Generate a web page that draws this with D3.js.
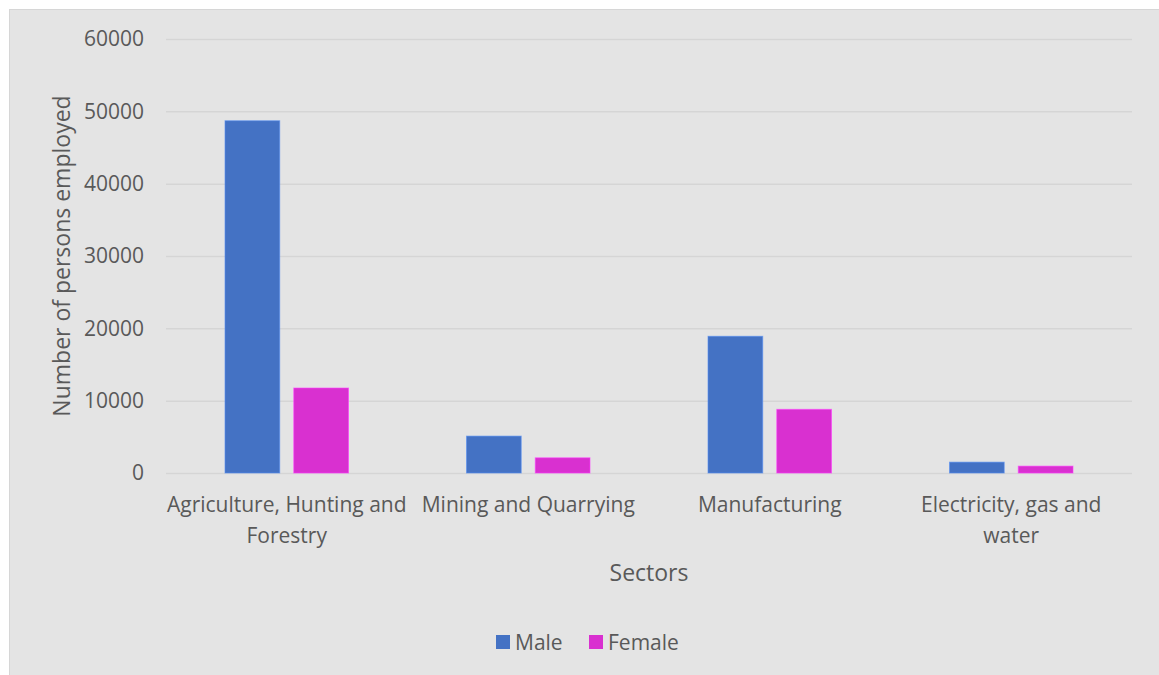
<!DOCTYPE html>
<html><head><meta charset="utf-8">
<script src="https://cdn.jsdelivr.net/npm/d3@7"></script>
<style>body{margin:0;background:#fff;}svg{display:block;font-family:"Open Sans",sans-serif;}</style>
</head><body>
<svg id="c" width="1159" height="675"></svg>
<script>
const categories = ["Agriculture, Hunting and Forestry","Mining and Quarrying","Manufacturing","Electricity, gas and water"];
const categoryLines = [["Agriculture, Hunting and","Forestry"],["Mining and Quarrying"],["Manufacturing"],["Electricity, gas and","water"]];
const seriesNames = ["Male","Female"];
const maleValues = [48700, 5100, 18900, 1500];
const femaleValues = [11750, 2100, 8800, 950];
const yTicks = [0,10000,20000,30000,40000,50000,60000];
const colors = ["#4472c4","#d930d0"];

const svg = d3.select("#c");
svg.append("rect").attr("x",9.5).attr("y",9.5).attr("width",1160).attr("height",680)
  .attr("fill","#e4e4e4").attr("stroke","#d6d6d6").attr("stroke-width",1);

const L=166,R=1132,T=39,B=473;
const x = d3.scaleBand().domain(categories).range([L,R]).paddingInner(0).paddingOuter(0);
const outer = 59;
const x1 = d3.scaleBand().domain(seriesNames).range([outer,x.bandwidth()-outer]).paddingInner(0.2044).paddingOuter(0);
const y = d3.scaleLinear().domain([0,60000]).range([B,T]);

const yAxis = d3.axisLeft(y).tickValues(yTicks).tickSize(-(R-L)).tickPadding(22).tickFormat(d3.format("d"));
const ga = svg.append("g").attr("transform",`translate(${L},0)`).call(yAxis);
ga.select(".domain").remove();
ga.selectAll(".tick line").attr("stroke","#d5d5d5").attr("stroke-width",1.5);
ga.selectAll(".tick text").attr("fill","#595959").attr("font-size",21).attr("font-family","Open Sans");

const data = categories.map((c,i)=>({c, vals:[maleValues[i],femaleValues[i]]}));
const g = svg.append("g");
data.forEach(d=>{
  d.vals.forEach((v,j)=>{
    g.append("rect").attr("x",x(d.c)+x1(seriesNames[j])).attr("width",x1.bandwidth())
     .attr("y",y(v)).attr("height",y(0)-y(v)).attr("fill",colors[j])
     .attr("stroke",d3.color(colors[j]).brighter(0.6)).attr("stroke-opacity",0.6).attr("stroke-width",1);
  });
});

categories.forEach((c,i)=>{
  const t = svg.append("text").attr("text-anchor","middle").attr("fill","#595959").attr("font-size",21);
  categoryLines[i].forEach((ln,k)=>{
    t.append("tspan").attr("x",x(c)+x.bandwidth()/2).attr("y",512+k*31).text(ln);
  });
});

svg.append("text").attr("x",(L+R)/2).attr("y",581).attr("text-anchor","middle")
  .attr("fill","#595959").attr("font-size",23).text("Sectors");
svg.append("text").attr("transform",`translate(70,${(T+B)/2}) rotate(-90)`).attr("text-anchor","middle")
  .attr("fill","#595959").attr("font-size",23).text("Number of persons employed");

const legX=[496,589];
seriesNames.forEach((s,i)=>{
  svg.append("rect").attr("x",legX[i]).attr("y",635).attr("width",14).attr("height",14).attr("fill",colors[i]);
  svg.append("text").attr("x",legX[i]+19).attr("y",649.5).attr("fill","#595959").attr("font-size",21).text(s);
});
</script>
</body></html>
